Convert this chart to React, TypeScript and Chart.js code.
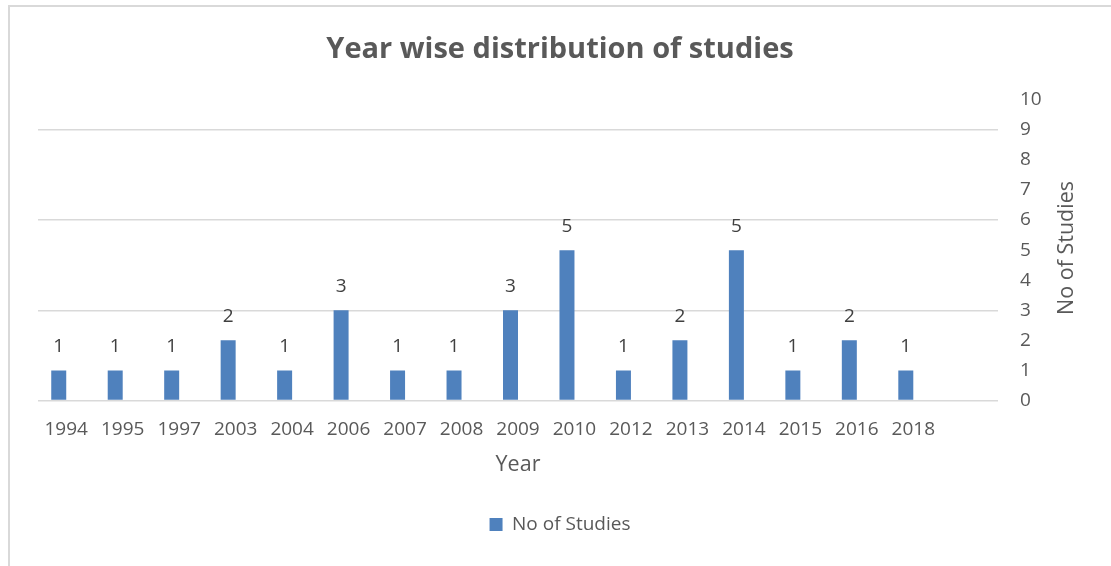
import React, { useEffect, useRef } from "react";
import { Chart, registerables } from "chart.js";

Chart.register(...registerables);

const years = ["1994", "1995", "1997", "2003", "2004", "2006", "2007", "2008", "2009", "2010", "2012", "2013", "2014", "2015", "2016", "2018", ""];
const studies = [1, 1, 1, 2, 1, 3, 1, 1, 3, 5, 1, 2, 5, 1, 2, 1, null];
const emptySeries = years.map(() => null);
const yTicks = [0, 1, 2, 3, 4, 5, 6, 7, 8, 9, 10];
const gridValues = [0, 3, 6, 9];

const FONT = "'Open Sans', 'DejaVu Sans', sans-serif";
const TEXT = "#595959";
const BAR = "#4f81bd";

const framePlugin = {
  id: "frame",
  beforeDraw(chart: any) {
    const ctx = chart.ctx;
    ctx.save();
    ctx.fillStyle = "#ffffff";
    ctx.fillRect(0, 0, chart.width, chart.height);
    ctx.strokeStyle = "#d9d9d9";
    ctx.lineWidth = 2;
    ctx.beginPath();
    ctx.moveTo(9, chart.height);
    ctx.lineTo(9, 6);
    ctx.lineTo(chart.width, 6);
    ctx.stroke();
    ctx.restore();
  },
};

const labelsPlugin = {
  id: "barLabels",
  afterDatasetsDraw(chart: any) {
    const ctx = chart.ctx;
    const meta = chart.getDatasetMeta(0);
    ctx.save();
    ctx.font = `19px ${FONT}`;
    ctx.fillStyle = "#404040";
    ctx.textAlign = "center";
    ctx.textBaseline = "middle";
    meta.data.forEach((bar: any, i: number) => {
      const v = studies[i];
      if (v == null) return;
      ctx.fillText(String(v), bar.x, bar.y - 24);
    });
    // rotated y-axis title
    ctx.font = `21.5px ${FONT}`;
    ctx.fillStyle = TEXT;
    ctx.translate(1067, 248);
    ctx.rotate(-Math.PI / 2);
    ctx.fillText("No of Studies", 0, 0);
    ctx.restore();
  },
};

export default function App() {
  const ref = useRef<HTMLCanvasElement>(null);
  useEffect(() => {
    if (!ref.current) return;
    const chart = new Chart(ref.current, {
      type: "bar",
      data: {
        labels: years,
        datasets: [
          {
            label: "No of Studies",
            data: studies,
            backgroundColor: BAR,
            categoryPercentage: 0.531,
            barPercentage: 1,
            yAxisID: "y",
          },
          {
            label: "hidden",
            data: emptySeries,
            backgroundColor: "transparent",
            categoryPercentage: 0.531,
            barPercentage: 1,
            yAxisID: "y",
          },
        ],
      } as any,
      options: {
        animation: false,
        responsive: false,
        layout: { padding: { left: 9, right: 0, top: 6, bottom: 22 } },
        plugins: {
          title: {
            display: true,
            text: "Year wise distribution of studies",
            color: TEXT,
            font: { family: FONT, size: 29, weight: "bold" },
            padding: { top: 26, bottom: 33 },
          },
          legend: {
            position: "bottom",
            labels: {
              filter: (item: any) => item.datasetIndex === 0,
              boxWidth: 13,
              boxHeight: 13,
              color: TEXT,
              font: { family: FONT, size: 19 },
              padding: 10,
            },
          },
          tooltip: { enabled: false },
        },
        scales: {
          x: {
            grid: { display: false, drawTicks: false },
            border: { display: false },
            ticks: { color: TEXT, font: { family: FONT, size: 19 }, padding: 18, maxRotation: 0, autoSkip: false },
            title: { display: true, text: "Year", color: TEXT, font: { family: FONT, size: 21.5 }, padding: { top: 0, bottom: 27 } },
            afterFit: (s: any) => { s.height = 104.5; },
          },
          y: {
            position: "right",
            min: 0,
            max: 10,
            afterBuildTicks: (s: any) => { s.ticks = yTicks.map((v) => ({ value: v })); },
            ticks: { color: TEXT, font: { family: FONT, size: 19 }, padding: 22, stepSize: 1 },
            grid: {
              drawTicks: false,
              lineWidth: 1.5,
              color: (c: any) => (gridValues.includes(c.tick?.value) ? "#d9d9d9" : "transparent"),
            },
            border: { display: false },
            afterFit: (s: any) => { s.width = 113; },
          },
          yLeft: {
            position: "left",
            display: true,
            grid: { display: false, drawTicks: false },
            border: { display: false },
            ticks: { display: false },
            afterFit: (s: any) => { s.width = 29; },
          },
        },
      } as any,
      plugins: [framePlugin, labelsPlugin],
    });
    return () => chart.destroy();
  }, []);
  return (
    <div style={{ position: "fixed", left: 0, top: 0, width: 1111, height: 566 }}>
      <canvas ref={ref} width={1111} height={566} style={{ display: "block" }} />
    </div>
  );
}
